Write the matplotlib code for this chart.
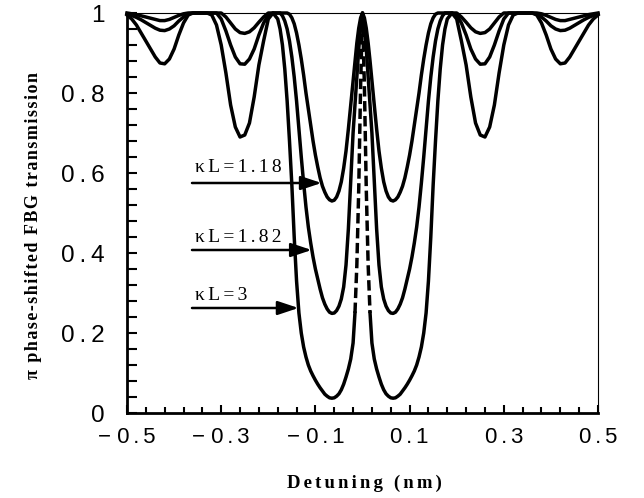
import numpy as np
import matplotlib
matplotlib.use('Agg')
import matplotlib.pyplot as plt
from matplotlib.ticker import FixedLocator

# Detuning (nm), one half of the spectrum; the curves are symmetric about 0
detuning_half = [0, .004, .008, .012, .016, .02, .025, .03, .035, .04, .045, .05,
                 .055, .06, .065, .07, .075, .08, .085, .09, .095, .10, .105, .11,
                 .115, .12, .125, .13, .135, .14, .145, .15, .155, .16, .165, .17,
                 .175, .18, .19, .20, .21, .22, .23, .24, .25, .26, .27, .28, .29,
                 .30, .31, .32, .33, .34, .35, .36, .37, .38, .39, .40, .41, .42,
                 .43, .44, .45, .46, .47, .48, .49, .50]

# transmission, kL = 1.18
t_118 = [1.0, .988, .962, .925, .88, .83, .77, .71, .655, .612, .578, .555,
         .54, .532, .53, .533, .54, .552, .567, .588, .615, .645, .68, .72,
         .76, .80, .845, .885, .92, .95, .973, .988, .997, 1.0, 1.0, 1.0,
         1.0, 1.0, 1.0, 1.0, .99, .977, .963, .953, .949, .951, .96, .975, .99,
         1.0, 1.0, 1.0, 1.0, 1.0, 1.0, 1.0, 1.0, .998, .994, .989, .984, .981,
         .981, .984, .987, .99, .993, .996, .998, 1.0]

# transmission, kL = 1.82
t_182 = [1.0, .965, .91, .84, .77, .70, .58, .46, .37, .315, .285, .267,
         .256, .25, .249, .252, .26, .272, .288, .31, .335, .36, .39, .425,
         .465, .515, .575, .64, .71, .78, .84, .89, .93, .96, .98, .993,
         1.0, 1.0, 1.0, .995, .975, .945, .91, .885, .872, .873, .89, .92, .955,
         .985, 1.0, 1.0, 1.0, 1.0, 1.0, 1.0, .998, .99, .98, .968, .96, .956,
         .957, .962, .969, .976, .983, .989, .994, .998]

# transmission, kL = 3
t_3 = [1.0, .82, .56, .37, .25, .175, .135, .11, .09, .072, .058, .048,
       .042, .038, .037, .038, .042, .047, .055, .063, .072, .082, .093, .105,
       .12, .14, .165, .20, .25, .33, .44, .57, .68, .78, .86, .92,
       .96, .985, 1.0, .985, .93, .87, .79, .725, .695, .69, .715, .77, .85,
       .92, .97, .995, 1.0, 1.0, 1.0, 1.0, .995, .975, .945, .91, .885, .873,
       .875, .89, .91, .93, .95, .97, .985, .995]

labels = ['κL=1.18', 'κL=1.82', 'κL=3']
xtick_vals = [-0.5, -0.3, -0.1, 0.1, 0.3, 0.5]
xtick_text = ['−0.5', '−0.3', '−0.1', '0.1', '0.3', '0.5']
ytick_vals = [0, 0.2, 0.4, 0.6, 0.8, 1.0]
ytick_text = ['0', '0.2', '0.4', '0.6', '0.8', '1']

SERIF = ['Liberation Serif', 'DejaVu Serif']
SANS = ['Liberation Sans', 'DejaVu Sans']


def full(half):
    half = np.asarray(half, dtype=float)
    return np.concatenate([half[::-1], half[1:]])


def spaced(s, sp='\u2006'):
    # the scanned figure uses wide letter spacing
    return sp.join(s)


x = np.concatenate([-np.asarray(detuning_half)[::-1], np.asarray(detuning_half)[1:]])

fig = plt.figure(figsize=(6.44, 4.98), dpi=100)
ax = fig.add_axes([127 / 644, 85 / 498, 471 / 644, 400 / 498])

lw = 2.5
ax.plot(x, full(t_118), color='black', lw=lw, clip_on=False)
ax.plot(x, full(t_182), color='black', lw=lw, clip_on=False)

# kL = 3: the narrow centre peak is printed dashed in the original
y3 = full(t_3)
core = np.abs(x) <= 0.016
left = x <= -0.016
right = x >= 0.016
ax.plot(x[left], y3[left], color='black', lw=lw, clip_on=False)
ax.plot(x[right], y3[right], color='black', lw=lw, clip_on=False)
ax.plot(x[core], y3[core], color='black', lw=lw, ls=(0, (3, 1.3)), clip_on=False)

# labels with arrows
text_y = [0.6125, 0.4375, 0.295]
arrow_y = [0.575, 0.4075, 0.2625]
tip_x = [-0.087, -0.108, -0.136]
for lab, ty, ay, tx in zip(labels, text_y, arrow_y, tip_x):
    ax.text(-0.356, ty, spaced(lab), ha='left', va='center', fontsize=14,
            family=SERIF)
    ax.annotate('', xy=(tx, ay), xytext=(-0.362, ay),
                arrowprops=dict(arrowstyle='-|>,head_length=0.9,head_width=0.3',
                                lw=1.8, color='black', mutation_scale=14,
                                shrinkA=0, shrinkB=0))

ax.set_xlim(-0.5, 0.5)
ax.set_ylim(0, 1)

ax.xaxis.set_major_locator(FixedLocator(xtick_vals))
ax.xaxis.set_minor_locator(FixedLocator(np.linspace(-0.5, 0.5, 26)))
ax.set_xticklabels([spaced(t).replace('−\u2006', '− ') for t in xtick_text])
ax.yaxis.set_major_locator(FixedLocator(ytick_vals))
ax.yaxis.set_minor_locator(FixedLocator(np.linspace(0, 1, 26)))
ax.set_yticklabels([spaced(t, '\u2009') for t in ytick_text])

ax.tick_params(axis='x', which='major', direction='in', length=6, width=1.5,
               pad=10, labelsize=16)
ax.tick_params(axis='x', which='minor', direction='in', length=4, width=1.5)
ax.tick_params(axis='y', which='both', direction='in', length=7, width=1.5,
               pad=16, labelsize=17.5)
for lab in ax.get_xticklabels() + ax.get_yticklabels():
    lab.set_family(SANS)

for side in ['left', 'bottom']:
    ax.spines[side].set_linewidth(2.0)
for side in ['top', 'right']:
    ax.spines[side].set_linewidth(0.8)

fig.text(34 / 644, 1 - 225 / 498, spaced('π phase-shifted FBG transmission', '\u200a'),
         rotation=90, ha='center', va='center', fontsize=13, fontweight='bold',
         family=SERIF)
fig.text(364 / 644, 1 - 483 / 498, spaced('Detuning (nm)'), ha='center', va='center',
         fontsize=13.5, fontweight='bold', family=SERIF)

fig.savefig('out.png', dpi=100)
